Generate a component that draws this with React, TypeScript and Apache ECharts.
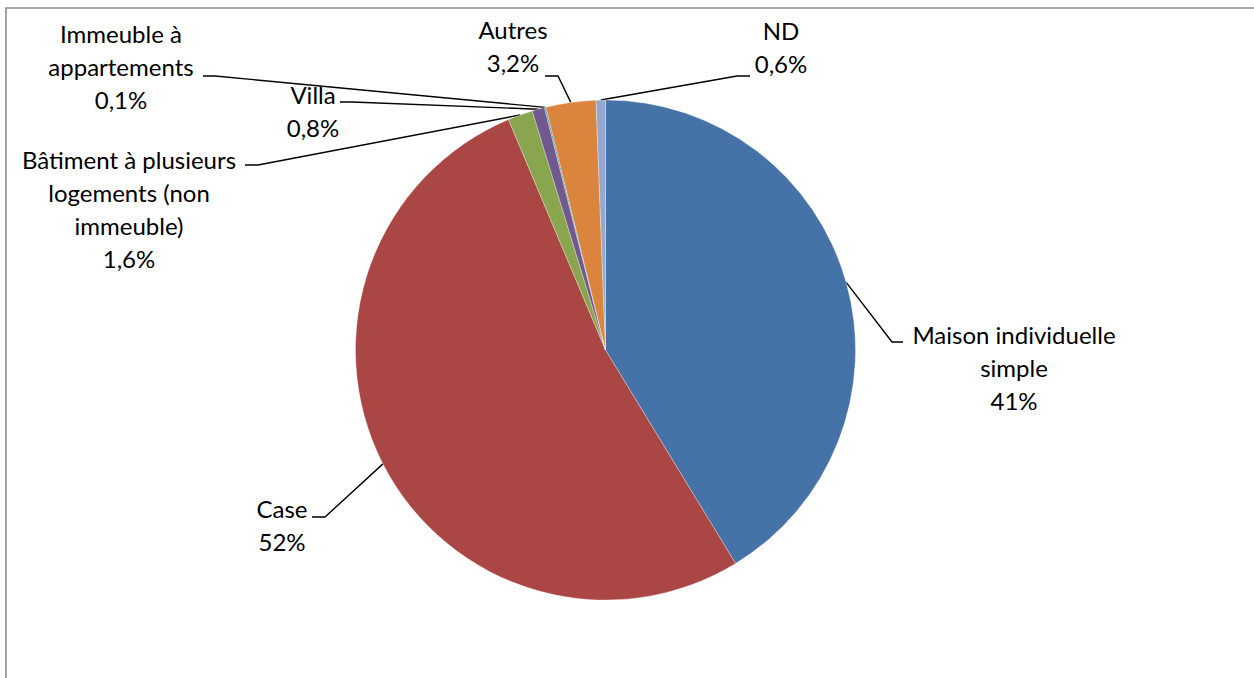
import React, { useEffect, useRef } from "react";
import * as echarts from "echarts";

// Housing types and their shares (%)
const categories = [
  "Maison individuelle\nsimple",
  "Case",
  "Bâtiment à plusieurs\nlogements (non\nimmeuble)",
  "Villa",
  "Immeuble à\nappartements",
  "Autres",
  "ND",
];
const shares = [41, 52, 1.6, 0.8, 0.1, 3.2, 0.6];
const colors = ["#4572A7", "#AA4643", "#89A54E", "#71588F", "#4198AF", "#DB843D", "#93A9CF"];

// Pie geometry (px)
const CX = 605.5;
const CY = 350;
const R = 250;

// Label block centres and leader-line elbows / ends (px)
const labelPlacement = [
  { x: 1014, y: 367, bend: [892, 342], end: [903, 342] },
  { x: 282, y: 525, bend: [325, 517], end: [312, 517] },
  { x: 129, y: 209, bend: [258, 165], end: [245, 165] },
  { x: 313, y: 111, bend: [352, 102], end: [340, 102] },
  { x: 121, y: 66, bend: [215, 76], end: [203, 76] },
  { x: 513, y: 46, bend: [558, 76], end: [545, 76] },
  { x: 781, y: 47, bend: [737, 76], end: [750, 76] },
];

const formatShare = (v: number) =>
  v >= 10 ? `${Math.round(v)}%` : `${v.toFixed(1).replace(".", ",")}%`;

export default function App() {
  const ref = useRef<HTMLDivElement>(null);

  useEffect(() => {
    if (!ref.current) return;
    const chart = echarts.init(ref.current, null, { renderer: "svg" });
    const total = shares.reduce((a, b) => a + b, 0);
    const midAngles: number[] = [];
    let acc = 0;
    shares.forEach((v) => {
      midAngles.push(((acc + v / 2) / total) * Math.PI * 2);
      acc += v;
    });

    chart.setOption({
      animation: false,
      backgroundColor: "#ffffff",
      graphic: [
        {
          type: "rect",
          shape: { x: 6, y: 8, width: 1300, height: 720 },
          style: { fill: "none", stroke: "#8a8a8a", lineWidth: 1.6 },
          silent: true,
        },
      ],
      series: [
        {
          type: "pie",
          center: [CX, CY],
          radius: [0, R],
          startAngle: 90,
          clockwise: true,
          avoidLabelOverlap: false,
          minAngle: 0,
          data: categories.map((name, i) => ({
            name,
            value: shares[i],
            itemStyle: { color: colors[i] },
          })),
          itemStyle: { borderColor: "rgba(255,255,255,0.6)", borderWidth: 0.5 },
          label: {
            show: true,
            position: "outer",
            alignTo: "none",
            formatter: (p: any) => `${p.name}\n${formatShare(p.value)}`,
            fontFamily: "Lato",
            fontSize: 24,
            lineHeight: 33,
            color: "#000000",
            align: "center",
          },
          labelLine: {
            show: true,
            length: 10,
            length2: 10,
            lineStyle: { color: "#000000", width: 1.4 },
          },
          labelLayout: (params: any) => {
            const i = params.dataIndex;
            const pl = labelPlacement[i];
            const a = midAngles[i];
            const start = [CX + R * Math.sin(a), CY - R * Math.cos(a)];
            return {
              x: pl.x,
              y: pl.y,
              align: "center",
              verticalAlign: "middle",
              labelLinePoints: [start, pl.bend, pl.end],
            };
          },
          emphasis: { disabled: true },
        },
      ],
    });

    return () => chart.dispose();
  }, []);

  return (
    <div
      ref={ref}
      style={{ position: "fixed", left: 0, top: 0, width: 1254, height: 678 }}
    />
  );
}
